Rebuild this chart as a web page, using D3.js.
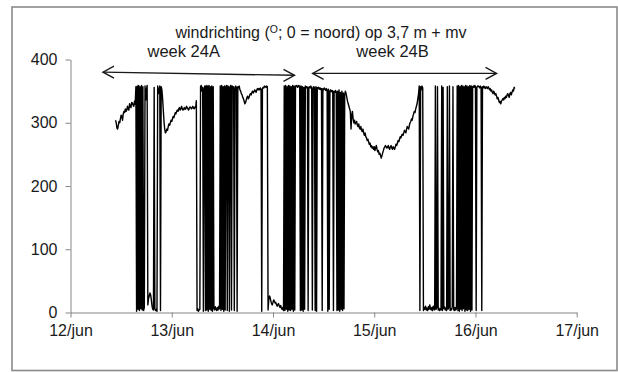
<!DOCTYPE html>
<html>
<head>
<meta charset="utf-8">
<script src="https://cdn.jsdelivr.net/npm/d3@7"></script>
<style>
  body { margin: 0; background: #fff; }
  svg { display: block; }
  text { font-family: "Liberation Sans", Arial, sans-serif; fill: #1a1a1a; }
</style>
</head>
<body>
<svg id="chart" width="618" height="372"></svg>
<script>
// Wind direction logger, 10-minute readings starting 12 jun 10:40 (degrees, 0 = north)
const firstReading = new Date(2013, 5, 12, 10, 40);
const stepMinutes = 10;
const windDir = [
  /* 12 jun 10:40 */ 304, 300, 292, 290, 296, 302, 300, 306, 312, 310, 304, 314,
  /* 12 jun 12:40 */ 318, 316, 322, 318, 320, 326, 322, 320, 330, 326, 324, 332,
  /* 12 jun 14:40 */ 331, 328, 326, 334, 329, 357, 2, 358, 5, 359, 3, 357,
  /* 12 jun 16:40 */ 6, 359, 4, 357, 3, 8, 358, 336, 352, 359, 12, 22,
  /* 12 jun 18:40 */ 26, 31, 28, 20, 10, 5, 4, 356, 6, 3, 5, 2,
  /* 12 jun 20:40 */ 358, 352, 346, 358, 3, 357, 352, 338, 320, 302, 290, 284,
  /* 12 jun 22:40 */ 286, 290, 288, 294, 298, 296, 300, 304, 302, 306, 310, 308,
  /* 13 jun 00:40 */ 312, 316, 314, 318, 320, 318, 322, 324, 320, 322, 326, 322,
  /* 13 jun 02:40 */ 320, 322, 324, 321, 322, 326, 324, 322, 320, 323, 325, 324,
  /* 13 jun 04:40 */ 322, 324, 326, 323, 322, 325, 324, 335, 3, 6, 2, 4,
  /* 13 jun 06:40 */ 5, 357, 359, 350, 356, 2, 354, 358, 3, 359, 4, 358,
  /* 13 jun 08:40 */ 2, 359, 5, 357, 3, 358, 2, 357, 6, 4, 9, 5,
  /* 13 jun 10:40 */ 3, 8, 4, 10, 6, 358, 3, 359, 5, 357, 2, 358,
  /* 13 jun 12:40 */ 4, 357, 359, 3, 358, 356, 2, 357, 359, 4, 358, 356,
  /* 13 jun 14:40 */ 357, 3, 355, 358, 356, 2, 357, 355, 358, 352, 350, 346,
  /* 13 jun 16:40 */ 344, 340, 338, 334, 330, 332, 336, 340, 342, 338, 340, 344,
  /* 13 jun 18:40 */ 346, 344, 348, 350, 347, 349, 352, 350, 348, 352, 354, 352,
  /* 13 jun 20:40 */ 354, 352, 355, 353, 2, 354, 356, 355, 358, 357, 356, 358,
  /* 13 jun 22:40 */ 357, 4, 20, 26, 24, 18, 14, 12, 16, 20, 18, 15,
  /* 14 jun 00:40 */ 16, 12, 10, 13, 14, 10, 8, 11, 7, 5, 8, 3,
  /* 14 jun 02:40 */ 358, 3, 359, 5, 357, 2, 359, 4, 358, 3, 357, 5,
  /* 14 jun 04:40 */ 359, 2, 358, 4, 357, 359, 358, 356, 359, 357, 358, 3,
  /* 14 jun 06:40 */ 358, 4, 357, 2, 356, 5, 358, 355, 357, 356, 3, 356,
  /* 14 jun 08:40 */ 357, 355, 358, 354, 4, 356, 357, 355, 3, 357, 2, 356,
  /* 14 jun 10:40 */ 354, 356, 353, 355, 352, 354, 3, 354, 352, 355, 353, 351,
  /* 14 jun 12:40 */ 354, 352, 2, 353, 5, 350, 352, 349, 351, 350, 3, 350,
  /* 14 jun 14:40 */ 348, 351, 349, 3, 350, 4, 352, 2, 348, 5, 350, 3,
  /* 14 jun 16:40 */ 347, 6, 345, 350, 346, 340, 334, 330, 326, 322, 318, 290,
  /* 14 jun 18:40 */ 312, 318, 306, 300, 304, 298, 300, 302, 296, 294, 298, 292,
  /* 14 jun 20:40 */ 290, 294, 288, 286, 290, 284, 280, 284, 278, 276, 272, 274,
  /* 14 jun 22:40 */ 270, 266, 268, 262, 264, 260, 262, 258, 262, 256, 260, 264,
  /* 15 jun 00:40 */ 258, 254, 256, 250, 252, 248, 244, 248, 252, 256, 260, 262,
  /* 15 jun 02:40 */ 264, 262, 260, 262, 264, 260, 258, 262, 264, 260, 258, 262,
  /* 15 jun 04:40 */ 260, 258, 262, 266, 264, 268, 272, 270, 274, 278, 276, 280,
  /* 15 jun 06:40 */ 282, 280, 284, 288, 286, 284, 290, 294, 292, 290, 296, 300,
  /* 15 jun 08:40 */ 302, 306, 304, 310, 314, 318, 316, 322, 326, 330, 338, 345,
  /* 15 jun 10:40 */ 358, 3, 357, 352, 358, 355, 3, 8, 5, 10, 4, 7,
  /* 15 jun 12:40 */ 3, 9, 5, 12, 6, 4, 8, 3, 10, 6, 4, 358,
  /* 15 jun 14:40 */ 5, 8, 357, 4, 7, 3, 6, 4, 358, 3, 356, 6,
  /* 15 jun 16:40 */ 9, 4, 7, 3, 357, 5, 8, 358, 3, 6, 4, 9,
  /* 15 jun 18:40 */ 357, 5, 3, 8, 4, 6, 358, 3, 359, 2, 357, 5,
  /* 15 jun 20:40 */ 359, 3, 358, 6, 357, 2, 359, 4, 358, 3, 357, 5,
  /* 15 jun 22:40 */ 359, 2, 358, 4, 357, 358, 356, 359, 357, 3, 356, 358,
  /* 16 jun 00:40 */ 358, 357, 355, 358, 356, 3, 357, 355, 358, 356, 354, 357,
  /* 16 jun 02:40 */ 356, 354, 357, 355, 352, 354, 350, 352, 348, 346, 350, 347,
  /* 16 jun 04:40 */ 344, 346, 342, 338, 340, 336, 332, 334, 330, 334, 336, 338,
  /* 16 jun 06:40 */ 336, 340, 338, 342, 340, 344, 346, 343, 340, 346, 348, 344,
  /* 16 jun 08:40 */ 348, 352, 350, 356, 354
];

const xTickDays = [12, 13, 14, 15, 16, 17];
const yTicks = [0, 100, 200, 300, 400];
const monthLabel = "jun";

// measurement weeks: label, start and end (hours after 12 jun 00:00), level in degrees
const weekNames = ["week 24A", "week 24B"];
const weekStartHour = [7.7, 57.4];
const weekEndHour = [53.1, 101.0];
const weekLevelStart = [380, 378];
const weekLevelEnd = [375, 378];

const title = "windrichting (";
const titleSup = "O";
const titleRest = "; 0 = noord) op 3,7 m + mv";

const svg = d3.select("#chart");
const day0 = new Date(2013, 5, 12);
const atHour = h => new Date(day0.getTime() + h * 3600e3);
const fontSize = "16px";

const x = d3.scaleTime()
  .domain([new Date(2013, 5, xTickDays[0]), new Date(2013, 5, xTickDays[xTickDays.length - 1])])
  .range([70.5, 576.7]);
const y = d3.scaleLinear().domain([0, 400]).range([312.5, 59.5]);

// outer frame
svg.append("rect")
  .attr("x", 12).attr("y", 7).attr("width", 605).attr("height", 363.5)
  .attr("fill", "none").attr("stroke", "#8a8a8a").attr("stroke-width", 1.6);

// title
const t = svg.append("text")
  .attr("x", 321).attr("y", 38).attr("text-anchor", "middle")
  .style("font-size", fontSize);
t.append("tspan").text(title);
t.append("tspan").text(titleSup).attr("dy", -5).style("font-size", "10.5px");
t.append("tspan").text(titleRest).attr("dy", 5);

// axes
const xAxis = d3.axisBottom(x)
  .tickValues(xTickDays.map(d => new Date(2013, 5, d)))
  .tickFormat(d => `${d.getDate()}/${monthLabel}`)
  .tickSize(5).tickSizeOuter(0).tickPadding(7);
const yAxis = d3.axisLeft(y)
  .tickValues(yTicks).tickSize(5).tickSizeOuter(0).tickPadding(8);

const gx = svg.append("g").attr("transform", `translate(0,${y(0)})`).call(xAxis);
const gy = svg.append("g").attr("transform", `translate(${x.range()[0]},0)`).call(yAxis);
[gx, gy].forEach(g => {
  g.select(".domain").attr("stroke", "#868686");
  g.selectAll(".tick line").attr("stroke", "#868686");
  g.selectAll("text").style("font-size", fontSize).attr("fill", "#1a1a1a")
    .style("font-family", "'Liberation Sans', Arial, sans-serif");
});

// wind direction series
const readings = windDir.map((v, i) => ({
  t: new Date(firstReading.getTime() + i * stepMinutes * 60e3), v
}));
svg.append("path")
  .datum(readings)
  .attr("fill", "none").attr("stroke", "#000").attr("stroke-width", 1.4)
  .attr("stroke-linejoin", "round")
  .attr("d", d3.line().x(d => x(d.t)).y(d => y(d.v)));

// week spans with double-headed arrows
weekNames.forEach((name, i) => {
  const x1 = x(atHour(weekStartHour[i])), x2 = x(atHour(weekEndHour[i]));
  const y1 = y(weekLevelStart[i]), y2 = y(weekLevelEnd[i]);
  const g = svg.append("g").attr("stroke", "#1a1a1a").attr("stroke-width", 1.4).attr("fill", "none");
  g.append("line").attr("x1", x1).attr("y1", y1).attr("x2", x2).attr("y2", y2);
  g.append("path").attr("d", `M${x1 + 11},${y1 - 6}L${x1},${y1}L${x1 + 11},${y1 + 6}`);
  g.append("path").attr("d", `M${x2 - 11},${y2 - 6}L${x2},${y2}L${x2 - 11},${y2 + 6}`);
  svg.append("text")
    .attr("x", (x1 + x2) / 2 - (i === 0 ? 15 : 12)).attr("y", 57)
    .attr("text-anchor", "middle").style("font-size", "16.5px")
    .text(name);
});
</script>
</body>
</html>
